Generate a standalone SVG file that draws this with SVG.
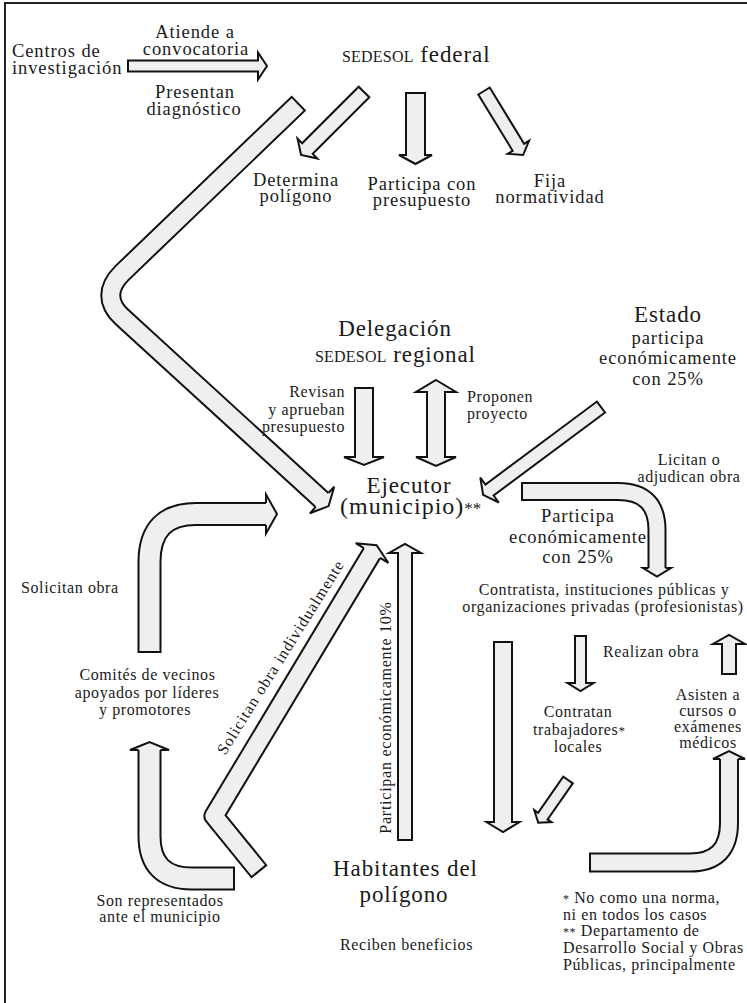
<svg xmlns="http://www.w3.org/2000/svg" width="747" height="1003" viewBox="0 0 747 1003">
<style>
.t{font-family:"Liberation Serif","Times New Roman",serif;fill:#1a1a1a}
.s{font-size:16px;letter-spacing:0.6px}
.m{font-size:18.5px;letter-spacing:0.9px}
.l{font-size:23px;letter-spacing:0.9px}
.sc{font-size:16px;letter-spacing:0.2px}
.c{text-anchor:middle}
.e{text-anchor:end}
.ar{fill:#efefef;stroke:#111;stroke-width:2;stroke-linejoin:miter}
.hd{fill:#efefef;stroke:#111;stroke-width:2;stroke-linejoin:miter}
.bo{fill:none;stroke:#111}
.bi{fill:none;stroke:#efefef}
</style>
<rect width="747" height="1003" fill="#fff"/>
<path d="M5,1003 V3 H747" fill="none" stroke="#222" stroke-width="2"/>

<g id="connectors">
  <polygon class="ar" transform="translate(128,66)" points="0,-5.5 130,-5.5 130,-13.5 139,0 130,13.5 130,5.5 0,5.5"/>
  <polygon class="ar" transform="translate(364,92) rotate(135)" points="0,-7.5 80,-7.5 80,-14 89,0 80,14 80,7.5 0,7.5"/>
  <polygon class="ar" transform="translate(415.5,93) rotate(90)" points="0,-9.5 62,-9.5 62,-16.5 71,0 62,16.5 62,9.5 0,9.5"/>
  <polygon class="ar" transform="translate(484,91) rotate(58.6)" points="0,-6.7 66,-6.7 66,-12.5 75,0 66,12.5 66,6.7 0,6.7"/>
  <polygon class="ar" transform="translate(364,388) rotate(90)" points="0,-9 69,-9 69,-20 77,0 69,20 69,9 0,9"/>
  <polygon class="ar" points="436,380 456,392 445,392 445,457 456,457 436,466 416,457 427,457 427,392 416,392"/>
  <polygon class="ar" transform="translate(601,407) rotate(143.3)" points="0,-6.8 139,-6.8 139,-15.5 147,0 139,15.5 139,6.8 0,6.8"/>
  <polygon class="ar" transform="translate(580.5,636) rotate(90)" points="0,-5.5 47,-5.5 47,-13 55,0 47,13 47,5.5 0,5.5"/>
  <polygon class="ar" transform="translate(729,674) rotate(-90)" points="0,-7 30,-7 30,-16 39,0 30,16 30,7 0,7"/>
  <polygon class="ar" transform="translate(568,780) rotate(124.9)" points="0,-5.8 44,-5.8 44,-10.5 52,0 44,10.5 44,5.8 0,5.8"/>
  <polygon class="ar" transform="translate(503,642) rotate(90)" points="0,-9 180,-9 180,-16.5 190,0 180,16.5 180,9 0,9"/>
  <polygon class="ar" transform="translate(405,840) rotate(-90)" points="0,-7 287,-7 287,-16 296,0 287,16 287,7 0,7"/>

  <path class="bo" stroke-width="21" d="M299,103 L122,273 C107,288 107,303 122,317 L322,500"/>
  <path class="bi" stroke-width="17" d="M297.6,104.4 L122,273 C107,288 107,303 122,317 L322.8,500.7"/>
  <path class="hd" d="M328.4,493 L334.2,486.7 L328.6,506.1 L309.9,513.3 L315.6,507"/>

  <path class="bo" stroke-width="19" d="M521,491.5 H618 Q657,491.5 657,530 V568"/>
  <path class="bi" stroke-width="15" d="M523,491.5 H618 Q657,491.5 657,530 V569"/>
  <path class="hd" d="M648.5,568 H643 L657,576.5 L671,568 H665.5"/>

  <path class="bo" stroke-width="20" d="M589,862.5 H690 Q729,862.5 729,823 V759"/>
  <path class="bi" stroke-width="16" d="M591,862.5 H690 Q729,862.5 729,823 V758"/>
  <path class="hd" d="M720,759 H713 L729,751 L745,759 H738"/>

  <path class="bo" stroke-width="24" d="M149.5,653 V562 Q149.5,514 196,514 H266"/>
  <path class="bi" stroke-width="20" d="M149.5,651 V562 Q149.5,514 196,514 H267"/>
  <path class="hd" d="M266,503 V494.5 L277,514 L266,533.5 V525"/>

  <path class="bo" stroke-width="24" d="M235,878.5 H192 Q149.5,878.5 149.5,836 V750"/>
  <path class="bi" stroke-width="20" d="M233,878.5 H192 Q149.5,878.5 149.5,836 V749"/>
  <path class="hd" d="M138.5,750 H130 L149.5,742 L169,750 H160.5"/>

  <path class="bo" stroke-width="21" stroke-linejoin="round" d="M259.5,872 L214,816 L372,553"/>
  <path class="bi" stroke-width="17" stroke-linejoin="round" d="M258.2,870.4 L214,816 L372.5,552.1"/>
  <path class="hd" d="M363.9,548.1 L355.7,543.2 L376.6,545.3 L388.3,562.8 L380.1,557.9"/>
</g>

<g id="centros"><text class="t m" x="12" y="57">Centros de</text><text class="t m" x="12" y="74">investigación</text></g>
<g id="lbl-atiende"><text class="t m c" x="195" y="38">Atiende a</text><text class="t m c" x="196" y="55">convocatoria</text></g>
<g id="lbl-presentan"><text class="t m c" x="195" y="98">Presentan</text><text class="t m c" x="194" y="115">diagnóstico</text></g>
<g id="sedesol-federal"><text class="t l" x="342" y="62"><tspan class="sc">SEDESOL</tspan> federal</text></g>
<g id="lbl-determina"><text class="t m c" x="296" y="186">Determina</text><text class="t m c" x="296" y="202">polígono</text></g>
<g id="lbl-participa-con"><text class="t m c" x="422" y="190">Participa con</text><text class="t m c" x="422" y="206">presupuesto</text></g>
<g id="lbl-fija"><text class="t m c" x="550" y="187">Fija</text><text class="t m c" x="550" y="203">normatividad</text></g>
<g id="delegacion"><text class="t l c" x="395" y="336">Delegación</text><text class="t l" x="315" y="362"><tspan class="sc">SEDESOL</tspan> regional</text></g>
<g id="estado"><text class="t l c" x="668" y="322">Estado</text><text class="t m c" x="668" y="344">participa</text><text class="t m c" x="668" y="364">económicamente</text><text class="t m c" x="668" y="385">con 25%</text></g>
<g id="lbl-revisan"><text class="t s e" x="345" y="397">Revisan</text><text class="t s e" x="345" y="414.5">y aprueban</text><text class="t s e" x="345" y="432">presupuesto</text></g>
<g id="lbl-proponen"><text class="t s" x="467" y="402">Proponen</text><text class="t s" x="467" y="419">proyecto</text></g>
<g id="ejecutor"><text class="t l c" x="409" y="493">Ejecutor</text><text class="t" x="340" y="514" style="font-size:24px;letter-spacing:1px">(municipio)<tspan style="font-size:17px;letter-spacing:0">**</tspan></text></g>
<g id="lbl-licitan"><text class="t s c" x="689" y="465">Licitan o</text><text class="t s c" x="689" y="482">adjudican obra</text></g>
<g id="lbl-participa-25"><text class="t m c" x="578" y="522">Participa</text><text class="t m c" x="578" y="543">económicamente</text><text class="t m c" x="578" y="563">con 25%</text></g>
<g id="contratista"><text class="t s c" x="604" y="595">Contratista, instituciones públicas y</text><text class="t s c" x="603" y="612">organizaciones privadas (profesionistas)</text></g>
<g id="lbl-realizan"><text class="t s" x="603" y="657">Realizan obra</text></g>
<g id="lbl-contratan"><text class="t s c" x="578" y="717">Contratan</text><text class="t s" x="533" y="735">trabajadores<tspan style="font-size:13px">*</tspan></text><text class="t s c" x="578" y="752">locales</text></g>
<g id="lbl-asisten"><text class="t s c" x="708" y="700">Asisten a</text><text class="t s c" x="708" y="716">cursos o</text><text class="t s c" x="708" y="732">exámenes</text><text class="t s c" x="708" y="748">médicos</text></g>
<g id="lbl-solicitan"><text class="t s" x="21" y="593">Solicitan obra</text></g>
<g id="comites"><text class="t s c" x="147.5" y="680">Comités de vecinos</text><text class="t s c" x="147" y="698">apoyados por líderes</text><text class="t s c" x="145" y="715">y promotores</text></g>
<g id="lbl-individual"><text class="t s c" transform="translate(285,660) rotate(-58)" style="letter-spacing:0.95px">Solicitan obra individualmente</text></g>
<g id="lbl-10"><text class="t s c" transform="translate(391,717.5) rotate(-90)" style="letter-spacing:0.75px">Participan económicamente 10%</text></g>
<g id="lbl-son"><text class="t s c" x="160" y="906">Son representados</text><text class="t s c" x="160" y="922">ante el municipio</text></g>
<g id="habitantes"><text class="t l c" x="405.5" y="876">Habitantes del</text><text class="t l c" x="404" y="902">polígono</text><text class="t s c" x="406.5" y="950">Reciben beneficios</text></g>
<g id="notas">
  <text class="t s" x="563" y="903"><tspan style="font-size:12px">*</tspan> No como una norma,</text>
  <text class="t s" x="563" y="920">ni en todos los casos</text>
  <text class="t s" x="563" y="936"><tspan style="font-size:12px">**</tspan> Departamento de</text>
  <text class="t s" x="563" y="953">Desarrollo Social y Obras</text>
  <text class="t s" x="563" y="970">Públicas, principalmente</text>
</g>
</svg>
